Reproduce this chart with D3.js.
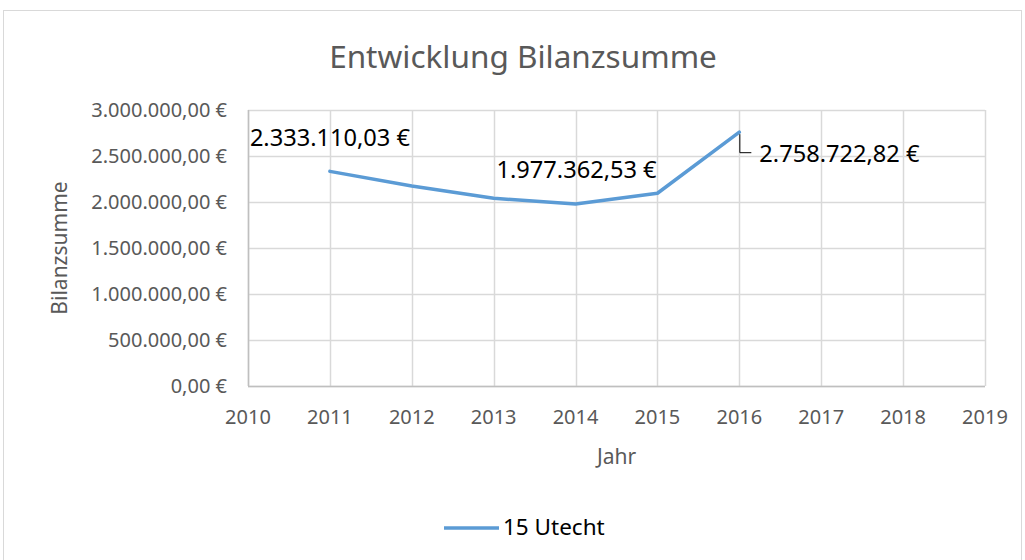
<!DOCTYPE html>
<html>
<head>
<meta charset="utf-8">
<script src="https://cdn.jsdelivr.net/npm/d3@7"></script>
<style>
  body { margin: 0; background: #fff; }
  text { font-family: "Noto Sans", "Open Sans", sans-serif; }
</style>
</head>
<body>
<div id="chart"></div>
<script>
// data
var years = [2011, 2012, 2013, 2014, 2015, 2016];
var bilanzsumme = [2333110.03, 2174000, 2040000, 1977362.53, 2095000, 2758722.82];
var labelledYears = [2011, 2014, 2016];
var yTicks = [0, 500000, 1000000, 1500000, 2000000, 2500000, 3000000];
var xTicks = [2010, 2011, 2012, 2013, 2014, 2015, 2016, 2017, 2018, 2019];
var seriesName = "15 Utecht";

var width = 1025, height = 560;
var margin = {top: 110, right: 40, bottom: 174, left: 248};

var svg = d3.select("#chart").append("svg")
  .attr("width", width)
  .attr("height", height);

// chart area border
svg.append("rect")
  .attr("x", 3.5).attr("y", 10.5)
  .attr("width", 1018).attr("height", 560)
  .attr("fill", "#fff")
  .attr("stroke", "#d9d9d9");

var x = d3.scaleLinear().domain([2010, 2019]).range([margin.left, width - margin.right]);
var y = d3.scaleLinear().domain([0, 3000000]).range([height - margin.bottom, margin.top]);

// euro formatting in German style
var de = d3.formatLocale({decimal: ",", thousands: ".", grouping: [3], currency: ["", " €"]});
var fmt = de.format(",.2f");
function euro(v) { return fmt(v) + " €"; }

// gridlines
svg.append("g").selectAll("line.h")
  .data(yTicks).enter().append("line")
  .attr("x1", x(2010)).attr("x2", x(2019))
  .attr("y1", d => Math.round(y(d)) + 0.5).attr("y2", d => Math.round(y(d)) + 0.5)
  .attr("stroke", "#d9d9d9").attr("stroke-width", 1.5);

svg.append("g").selectAll("line.v")
  .data(xTicks).enter().append("line")
  .attr("y1", y(0)).attr("y2", y(3000000))
  .attr("x1", d => Math.round(x(d)) + 0.5).attr("x2", d => Math.round(x(d)) + 0.5)
  .attr("stroke", "#d9d9d9").attr("stroke-width", 1.5);

// axes lines
svg.append("line")
  .attr("x1", x(2010)).attr("x2", x(2019))
  .attr("y1", y(0) + 0.5).attr("y2", y(0) + 0.5)
  .attr("stroke", "#bfbfbf").attr("stroke-width", 1.5);
svg.append("line")
  .attr("x1", x(2010) + 0.5).attr("x2", x(2010) + 0.5)
  .attr("y1", y(0)).attr("y2", y(3000000))
  .attr("stroke", "#bfbfbf").attr("stroke-width", 1.5);

// tick labels
svg.append("g").selectAll("text")
  .data(yTicks).enter().append("text")
  .attr("x", x(2010) - 21)
  .attr("y", d => y(d) + 7)
  .attr("text-anchor", "end")
  .attr("fill", "#595959")
  .style("font-size", "20px")
  .text(d => euro(d));

svg.append("g").selectAll("text")
  .data(xTicks).enter().append("text")
  .attr("x", d => x(d))
  .attr("y", y(0) + 38)
  .attr("text-anchor", "middle")
  .attr("fill", "#595959")
  .style("font-size", "20px")
  .text(d => d);

// axis titles
svg.append("text")
  .attr("x", (x(2010) + x(2019)) / 2)
  .attr("y", 464)
  .attr("text-anchor", "middle")
  .attr("fill", "#595959")
  .style("font-size", "21px")
  .text("Jahr");

svg.append("text")
  .attr("transform", "translate(67," + ((y(0) + y(3000000)) / 2) + ") rotate(-90)")
  .attr("text-anchor", "middle")
  .attr("fill", "#595959")
  .style("font-size", "21px")
  .text("Bilanzsumme");

// title
svg.append("text")
  .attr("x", 523)
  .attr("y", 68)
  .attr("text-anchor", "middle")
  .attr("fill", "#595959")
  .style("font-size", "31.5px")
  .text("Entwicklung Bilanzsumme");

// the line
var data = years.map((d, i) => ({year: d, value: bilanzsumme[i]}));
svg.append("path")
  .datum(data)
  .attr("fill", "none")
  .attr("stroke", "#5b9bd5")
  .attr("stroke-width", 3.5)
  .attr("stroke-linejoin", "round")
  .attr("stroke-linecap", "round")
  .attr("d", d3.line().x(d => x(d.year)).y(d => y(d.value)));

// data labels
var labelData = data.filter(d => labelledYears.indexOf(d.year) > -1);
var labelPos = {
  2011: {dx: -80, dy: -25},
  2014: {dx: -79, dy: -26},
  2016: {dx: 20, dy: 30}
};
svg.append("g").selectAll("text")
  .data(labelData).enter().append("text")
  .attr("x", d => x(d.year) + labelPos[d.year].dx)
  .attr("y", d => y(d.value) + labelPos[d.year].dy)
  .attr("fill", "#000")
  .style("font-size", "23.6px")
  .text(d => euro(d.value));

// leader line for the 2016 label
var p16 = data[data.length - 1];
svg.append("path")
  .attr("d", "M" + (x(p16.year) + 0.5) + "," + (y(p16.value) + 2) +
             "V" + (y(p16.value) + 20.5) + "H" + (x(p16.year) + 12))
  .attr("fill", "none")
  .attr("stroke", "#000")
  .attr("stroke-width", 1);

// legend
svg.append("line")
  .attr("x1", 444).attr("x2", 499)
  .attr("y1", 528).attr("y2", 528)
  .attr("stroke", "#5b9bd5").attr("stroke-width", 3.5);
svg.append("text")
  .attr("x", 503).attr("y", 535)
  .attr("fill", "#000")
  .style("font-size", "22.5px")
  .text(seriesName);
</script>
</body>
</html>
